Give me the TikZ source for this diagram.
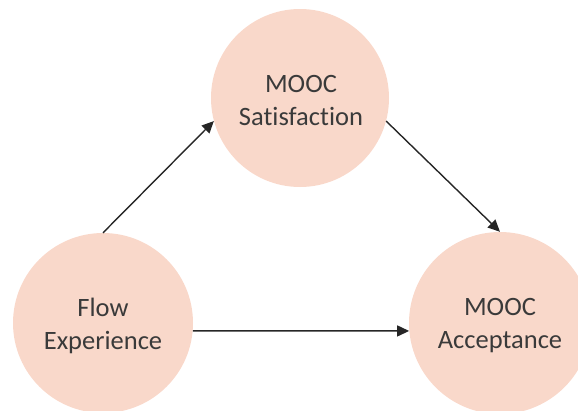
\documentclass[tikz,border=0pt]{standalone}
\usepackage{fontspec}
\setmainfont{Carlito}[Ligatures={NoCommon}]
\usetikzlibrary{arrows.meta}
\definecolor{bubble}{HTML}{F9D8CA}
\definecolor{ink}{HTML}{262626}
\definecolor{txt}{HTML}{3A3A3A}
\tikzset{
  bubble/.style={circle, fill=bubble, draw=none, inner sep=0pt, minimum size=#1},
  caption/.style={align=center, text=txt, inner sep=0pt, font=\fontsize{26.5}{33}\selectfont},
  conn/.style={draw=ink, line width=1.4pt, -{Triangle[length=12pt,width=11pt]}}
}
\begin{document}
\begin{tikzpicture}[x=1pt,y=-1pt]
\useasboundingbox (0,0) rectangle (578,410);
\clip (0,0) rectangle (578,410);
\node[bubble=178pt] (sat) at (300,98) {};
\node[bubble=180pt] (fe) at (103,323) {};
\node[bubble=182pt] (acc) at (500,323) {};
\node[caption] (satT) at (301,100) {MOOC\\Satisfaction};
\node[caption] (feT) at (103,326) {Flow\\Experience};
\node[caption] (accT) at (500,326) {MOOC\\Acceptance};
\draw[conn] (fe.north) -- (sat.195.6);
\draw[conn] (sat.-15.6) -- (acc.north);
\draw[conn] (fe.-5.7) -- (acc.185.7);
\end{tikzpicture}
\end{document}
